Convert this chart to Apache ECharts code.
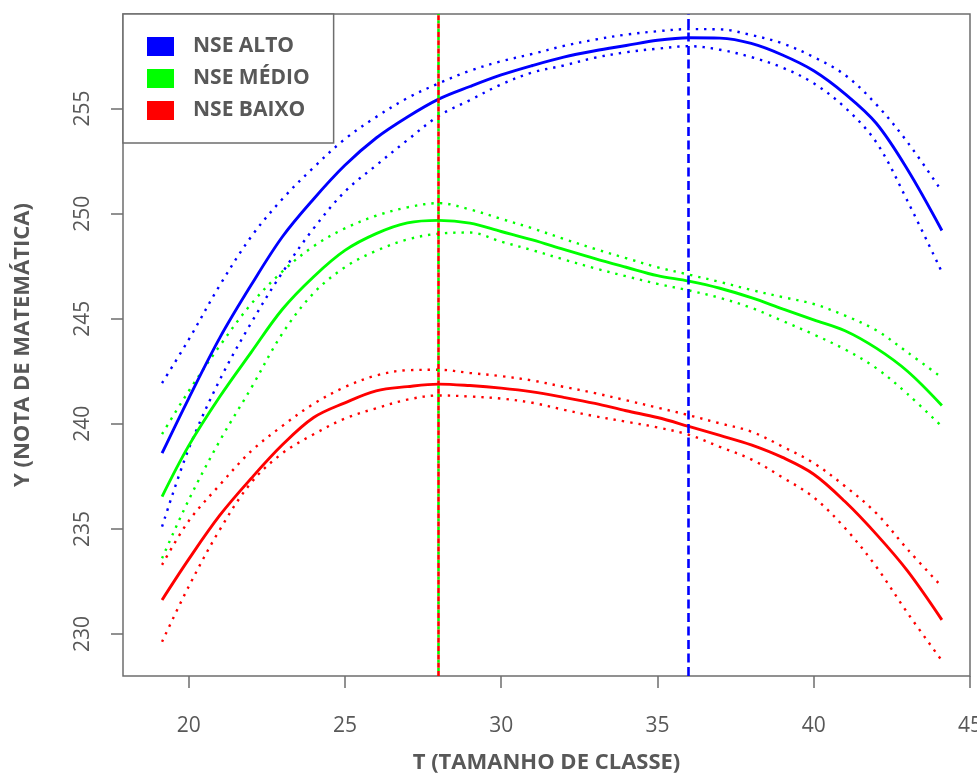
<!DOCTYPE html>
<html>
<head>
<meta charset="utf-8">
<script src="https://cdn.jsdelivr.net/npm/echarts@6/dist/echarts.min.js"></script>
<style>
html,body{margin:0;padding:0;background:#fff;}
#chart{width:977px;height:777px;}
</style>
</head>
<body>
<div id="chart"></div>
<script>
// T (class size) sample points
const T = [19.15, 20, 21, 22, 23, 24, 25, 26, 27, 28, 29, 30, 31, 32, 33, 34, 35, 36, 37, 38, 39, 40, 41, 42, 43, 44.1];

// NSE ALTO
const altoFit   = [238.6, 241.2, 244.1, 246.6, 248.9, 250.7, 252.3, 253.6, 254.6, 255.45, 256.05, 256.6, 257.05, 257.45, 257.75, 258.0, 258.25, 258.37, 258.35, 258.1, 257.55, 256.8, 255.7, 254.3, 252.1, 249.2];
const altoUpper = [241.94, 244.0, 246.6, 248.9, 250.7, 252.2, 253.55, 254.6, 255.5, 256.2, 256.8, 257.25, 257.6, 257.98, 258.28, 258.52, 258.68, 258.78, 258.77, 258.5, 258.1, 257.45, 256.6, 255.2, 253.4, 251.06];
const altoLower = [235.11, 238.8, 242.1, 244.8, 247.2, 249.3, 251.05, 252.3, 253.5, 254.65, 255.4, 256.15, 256.72, 257.05, 257.42, 257.68, 257.85, 257.97, 257.8, 257.45, 256.95, 256.2, 255.05, 253.4, 250.6, 247.22];

// NSE MÉDIO
const medioFit   = [236.54, 238.95, 241.3, 243.4, 245.45, 247.0, 248.25, 249.05, 249.56, 249.68, 249.55, 249.15, 248.75, 248.3, 247.86, 247.45, 247.05, 246.79, 246.45, 246.0, 245.47, 244.95, 244.43, 243.6, 242.5, 240.87];
const medioUpper = [239.51, 241.55, 243.72, 245.7, 247.25, 248.45, 249.3, 249.9, 250.3, 250.5, 250.2, 249.75, 249.3, 248.8, 248.32, 247.88, 247.45, 247.1, 246.75, 246.37, 246.03, 245.7, 245.15, 244.45, 243.4, 242.2];
const medioLower = [233.6, 236.37, 239.2, 241.7, 244.3, 246.22, 247.45, 248.23, 248.77, 249.05, 249.1, 248.67, 248.26, 247.82, 247.4, 247.02, 246.66, 246.35, 245.99, 245.52, 244.9, 244.25, 243.54, 242.65, 241.42, 239.87];

// NSE BAIXO
const baixoFit   = [231.62, 233.55, 235.65, 237.4, 239.0, 240.3, 241.0, 241.57, 241.77, 241.89, 241.82, 241.7, 241.52, 241.26, 240.97, 240.62, 240.3, 239.88, 239.45, 239.0, 238.4, 237.6, 236.3, 234.75, 233.0, 230.67];
const baixoUpper = [233.29, 235.37, 237.1, 238.7, 239.9, 240.95, 241.75, 242.3, 242.55, 242.57, 242.42, 242.27, 242.06, 241.76, 241.46, 241.12, 240.77, 240.41, 240.02, 239.63, 238.92, 238.13, 237.03, 235.75, 234.03, 232.25];
const baixoLower = [229.63, 232.25, 234.97, 237.2, 238.6, 239.5, 240.25, 240.74, 241.15, 241.35, 241.3, 241.2, 241.0, 240.67, 240.36, 240.1, 239.83, 239.48, 238.9, 238.31, 237.45, 236.5, 235.04, 233.2, 231.0, 228.73];

// optimum class size (vertical reference lines)
const altoOptimum = 36;
const medioOptimum = 28;
const baixoOptimum = 28;

// tick labels
const xTicks = [20, 25, 30, 35, 40, 45];
const yTicks = [230, 235, 240, 245, 250, 255];

const groupNames = ['NSE ALTO', 'NSE MÉDIO', 'NSE BAIXO'];
const colors = ['#0000ff', '#00ff00', '#ff0000'];

const pairs = arr => T.map((t, i) => [t, arr[i]]);
const textColor = '#585858';
const boxColor = '#6e6e6e';
const font = 'Open Sans';

function fitSeries(name, color, vals, optimum, dash) {
  return {
    name: name, type: 'line', data: pairs(vals), showSymbol: false, smooth: 0.35,
    lineStyle: { color: color, width: 2.9 }, itemStyle: { color: color }, z: 3,
    markLine: {
      silent: true, symbol: 'none', label: { show: false }, animation: false,
      lineStyle: Object.assign({ color: color, width: 2.6, type: 'solid' }, dash),
      data: [{ xAxis: optimum }]
    }
  };
}
function bandSeries(name, color, vals) {
  return {
    name: name, type: 'line', data: pairs(vals), showSymbol: false, smooth: 0.35,
    lineStyle: { color: color, width: 2.4, type: [2.4, 6], cap: 'butt' }, z: 2
  };
}

const series = [
  bandSeries('NSE ALTO sup', colors[0], altoUpper),
  bandSeries('NSE ALTO inf', colors[0], altoLower),
  bandSeries('NSE MÉDIO sup', colors[1], medioUpper),
  bandSeries('NSE MÉDIO inf', colors[1], medioLower),
  bandSeries('NSE BAIXO sup', colors[2], baixoUpper),
  bandSeries('NSE BAIXO inf', colors[2], baixoLower),
  fitSeries(groupNames[0], colors[0], altoFit, altoOptimum, { type: [9, 4.5] }),
  fitSeries(groupNames[1], colors[1], medioFit, medioOptimum, { type: [3.3, 5], dashOffset: 3.3 }),
  fitSeries(groupNames[2], colors[2], baixoFit, baixoOptimum, { type: [5, 3.3] })
];

const chart = echarts.init(document.getElementById('chart'), null, { renderer: 'canvas' });
chart.setOption({
  animation: false,
  backgroundColor: '#fff',
  grid: {
    left: 123, right: 7, top: 14, bottom: 101,
    show: true, borderColor: boxColor, borderWidth: 1.5,
    outerBoundsMode: 'none', containLabel: false
  },
  legend: {
    left: 123, top: 14,
    orient: 'vertical',
    data: groupNames.map((n, i) => ({ name: n, icon: 'rect', itemStyle: { color: colors[i], borderWidth: 0 } })),
    itemWidth: 27, itemHeight: 19, itemGap: 11,
    padding: [22, 24, 22, 24],
    backgroundColor: '#fff',
    borderColor: boxColor, borderWidth: 1.5, borderRadius: 0,
    textStyle: { color: textColor, fontFamily: font, fontWeight: 'bold', fontSize: 21, padding: [0, 0, 0, 14] },
    selectedMode: false,
    z: 10
  },
  xAxis: {
    type: 'value', min: 17.9, max: 45,
    name: 'T (TAMANHO DE CLASSE)', nameLocation: 'middle', nameGap: 76, nameMoveOverlap: false,
    nameTextStyle: { color: textColor, fontFamily: font, fontWeight: 'bold', fontSize: 22 },
    axisLine: { show: false },
    axisTick: { show: true, length: 12, customValues: xTicks, lineStyle: { color: boxColor, width: 1.5 } },
    axisLabel: { customValues: xTicks, color: textColor, fontFamily: font, fontSize: 21, margin: 40 },
    splitLine: { show: false }
  },
  yAxis: {
    type: 'value', min: 228, max: 259.5,
    name: 'Y (NOTA DE MATEMÁTICA)', nameLocation: 'middle', nameGap: 89, nameRotate: 90, nameMoveOverlap: false,
    nameTextStyle: { color: textColor, fontFamily: font, fontWeight: 'bold', fontSize: 22 },
    axisLine: { show: false },
    axisTick: { show: true, length: 12, customValues: yTicks, lineStyle: { color: boxColor, width: 1.5 } },
    axisLabel: { customValues: yTicks, rotate: 90, color: textColor, fontFamily: font, fontSize: 21, margin: 29 },
    splitLine: { show: false }
  },
  series: series
});
</script>
</body>
</html>
